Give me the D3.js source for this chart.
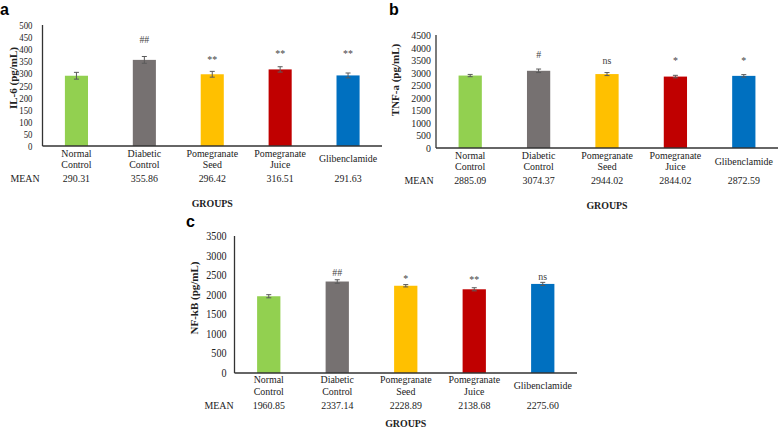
<!DOCTYPE html>
<html><head><meta charset="utf-8">
<script src="https://cdn.jsdelivr.net/npm/d3@7"></script>
<style>
html,body{margin:0;padding:0;background:#fff;}
</style></head>
<body><svg id="c" width="779" height="428"></svg>
<script>
const groups = [["Normal","Control"],["Diabetic","Control"],["Pomegranate","Seed"],["Pomegranate","Juice"],["Glibenclamide"]];
const barColors = ["#92d050","#767171","#ffc000","#c00000","#0070c0"];

const il6Means = [290.31, 355.86, 296.42, 316.51, 291.63];
const il6Err = [14, 14, 12, 11, 10];
const il6Sig = ["", "##", "**", "**", "**"];
const il6SigAt = [0, 425, 345, 368, 368];
const il6Ticks = [0,50,100,150,200,250,300,350,400,450,500];

const tnfMeans = [2885.09, 3074.37, 2944.02, 2844.02, 2872.59];
const tnfErr = [45, 70, 60, 50, 50];
const tnfSig = ["", "#", "ns", "*", "*"];
const tnfSigAt = [0, 3600, 3330, 3330, 3330];
const tnfTicks = [0,500,1000,1500,2000,2500,3000,3500,4000,4500];

const nfkbMeans = [1960.85, 2337.14, 2228.89, 2138.68, 2275.60];
const nfkbErr = [40, 45, 30, 40, 40];
const nfkbSig = ["", "##", "*", "**", "ns"];
const nfkbSigAt = [0, 2480, 2330, 2300, 2380];
const nfkbTicks = [0,500,1000,1500,2000,2500,3000,3500];

const SERIF = "'Liberation Serif', 'Times New Roman', Times, serif";
const SANS = "'Liberation Sans', Arial, sans-serif";
const svg = d3.select("#c");
const fmt = d3.format(".2f");

function T(g, x, y, s, o={}){
  const sx = o.sx ?? 0.9;
  return g.append("text")
    .attr("transform", `translate(${x},${y}) scale(${sx},1)`)
    .attr("text-anchor", o.anchor || "middle")
    .attr("font-family", o.family || SERIF)
    .attr("font-size", (o.size || 11) + "px")
    .attr("font-weight", o.weight || "normal")
    .attr("fill", o.fill || "#222")
    .text(s);
}

function panel(o){
  const g = svg.append("g");
  const x = d3.scaleBand().domain(d3.range(groups.length)).range([o.x0, o.x1]).paddingInner(0).paddingOuter(0);
  const y = d3.scaleLinear().domain([0, o.max]).range([o.yb, o.yt]);
  const bw = x.bandwidth()*0.34;
  const cx = i => x(i) + x.bandwidth()/2;
  // tick labels
  o.ticks.forEach(d => T(g, o.x0 - o.tgap, y(d) + 4, d, {anchor:"end", size:o.tsize, sx:o.tsx}));
  // bars
  g.selectAll(".bar").data(o.means).join("rect")
    .attr("x",(d,i)=>cx(i)-bw/2).attr("width",bw)
    .attr("y",d=>y(d)).attr("height",d=>y(0)-y(d))
    .attr("fill",(d,i)=>barColors[i]);
  // error bars
  const eb = g.selectAll(".eb").data(o.means).join("g").attr("stroke","#5a5a5a").attr("stroke-width",1);
  eb.append("line").attr("x1",(d,i)=>cx(i)).attr("x2",(d,i)=>cx(i))
    .attr("y1",(d,i)=>y(d-o.err[i])).attr("y2",(d,i)=>y(d+o.err[i]));
  eb.append("line").attr("x1",(d,i)=>cx(i)-2.5).attr("x2",(d,i)=>cx(i)+2.5)
    .attr("y1",(d,i)=>y(d+o.err[i])).attr("y2",(d,i)=>y(d+o.err[i]));
  eb.append("line").attr("x1",(d,i)=>cx(i)-2.5).attr("x2",(d,i)=>cx(i)+2.5)
    .attr("y1",(d,i)=>y(d-o.err[i])).attr("y2",(d,i)=>y(d-o.err[i]));
  // axis lines
  g.append("line").attr("x1",o.x0).attr("x2",o.x0).attr("y1",y(o.max)).attr("y2",y(0)).attr("stroke","#333").attr("stroke-width",1.3);
  g.append("line").attr("x1",o.x0).attr("x2",o.x1).attr("y1",y(0)).attr("y2",y(0)).attr("stroke","#333").attr("stroke-width",1.3);
  // significance
  o.sig.forEach((d,i)=>{ if(d) T(g, cx(i), y(o.sigAt[i]), d, {fill:"#444"}); });
  // category labels
  groups.forEach((lines,i)=>{
    if(lines.length===1) T(g, cx(i), o.catY + o.lh/2, lines[0]);
    else lines.forEach((l,k)=>T(g, cx(i), o.catY + k*o.lh, l));
  });
  // MEAN row
  T(g, o.meanX, o.meanY, "MEAN");
  o.means.forEach((d,i)=>T(g, cx(i), o.meanY, fmt(d)));
  // GROUPS
  T(g, (o.x0+o.x1)/2, o.grpY, "GROUPS", {weight:"bold"});
  // y title
  g.append("text").attr("transform",`translate(${o.ytX},${o.ytY}) rotate(-90)`).attr("text-anchor","middle")
    .attr("font-family",SERIF).attr("font-size","11px").attr("font-weight","bold").attr("fill","#222").text(o.ytitle);
  // panel letter
  g.append("text").attr("x",o.lx).attr("y",o.ly).attr("font-family",SANS)
    .attr("font-size","16px").attr("font-weight","bold").attr("fill","#000").text(o.letter);
}

panel({x0:42.5,x1:382,yb:146,yt:25,max:500,ticks:il6Ticks,tsize:11,tsx:0.8,tgap:10,means:il6Means,err:il6Err,sig:il6Sig,sigAt:il6SigAt,
  catY:157,lh:10.5,meanX:25,meanY:182,grpY:207,ytitle:"IL-6 (pg/mL)",ytX:17,ytY:78,letter:"a",lx:0,ly:15});
panel({x0:436,x1:778,yb:148,yt:35,max:4500,ticks:tnfTicks,tsize:11,tsx:0.9,tgap:5,means:tnfMeans,err:tnfErr,sig:tnfSig,sigAt:tnfSigAt,
  catY:159,lh:11,meanX:419,meanY:184,grpY:209,ytitle:"TNF-a (pg/mL)",ytX:399,ytY:80,letter:"b",lx:389,ly:15});
panel({x0:234.5,x1:577,yb:373,yt:236,max:3500,ticks:nfkbTicks,tsize:11.5,tsx:0.88,tgap:8,means:nfkbMeans,err:nfkbErr,sig:nfkbSig,sigAt:nfkbSigAt,
  catY:383,lh:12,meanX:219,meanY:409,grpY:427,ytitle:"NF-kB (pg/mL)",ytX:198,ytY:298,letter:"c",lx:186,ly:227});
</script></body></html>
